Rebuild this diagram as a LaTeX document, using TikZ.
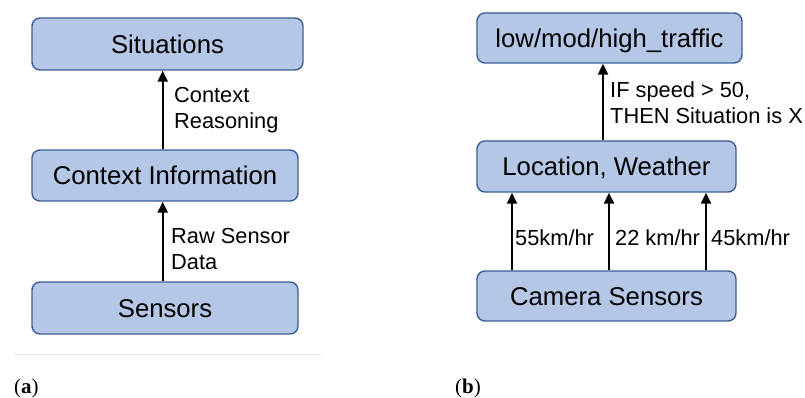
\documentclass[tikz,border=0pt]{standalone}
\usepackage{fontspec}
\setsansfont{Liberation Sans}
\newfontfamily\capfont{Liberation Serif}
\usetikzlibrary{arrows.meta}
\definecolor{boxfill}{HTML}{B4C7E7}
\definecolor{boxline}{HTML}{3B5E98}
\definecolor{rulegray}{HTML}{E4E4E4}
\tikzset{
  layer/.style={draw=boxline, fill=boxfill, line width=1.4pt, rounded corners=8pt,
    inner sep=0pt, font=\sffamily\fontsize{25.7}{30}\selectfont,
    text height=18.4pt, text depth=0pt},
  flow/.style={line width=2.2pt, -{Triangle[length=11pt,width=10pt]}},
  note/.style={font=\sffamily\fontsize{21.8}{26}\selectfont, align=left,
    inner sep=0pt, anchor=base west},
  panel/.style={font=\capfont\fontsize{21}{24}\selectfont, inner sep=0pt, anchor=base west},
}
\begin{document}
\begin{tikzpicture}[x=1pt,y=-1pt]
\useasboundingbox (0,0) rectangle (805,398);

% (a) generic context pipeline
\node[layer, minimum width=271pt, minimum height=52pt] (sit) at (167.5,44) {Situations};
\node[layer, minimum width=266pt, minimum height=51pt] (ctx) at (165,175.5) {Context Information};
\node[layer, minimum width=266pt, minimum height=52pt] (sen) at (165,308) {Sensors};

\draw[flow] ([xshift=-2.3pt]ctx.north) -- ([xshift=-4.8pt]sit.south);
\draw[flow] ([xshift=-2.3pt]sen.north) -- ([xshift=-2.3pt]ctx.south);

% multi-line notes are placed by the baseline of their last line
\node[note] (reason) at (174,128.3) {Context\\Reasoning};
\node[note] (raw) at (171,269.3) {Raw Sensor\\Data};

\draw[rulegray, line width=1pt] (14,354) coordinate (ruleL) -- (321,354) coordinate (ruleR);
\node[panel] (capa) at (14,393) {(\textbf{a})};

% (b) traffic example
\node[layer, minimum width=265pt, minimum height=50pt] (traf) at (609.5,38) {low/mod/high\_traffic};
\node[layer, minimum width=259pt, minimum height=51pt] (loc) at (606.5,166.5) {Location, Weather};
\node[layer, minimum width=259pt, minimum height=50pt] (cam) at (606.5,296) {Camera Sensors};

\draw[flow] ([xshift=-3.5pt]loc.north) -- ([xshift=-6.5pt]traf.south);
\draw[flow] ([xshift=-94.5pt]cam.north) -- ([xshift=-94.5pt]loc.south);
\draw[flow] ([xshift=2.5pt]cam.north) -- ([xshift=2.5pt]loc.south);
\draw[flow] ([xshift=99.5pt]cam.north) -- ([xshift=99.5pt]loc.south);

\node[note] (rule) at (610,123.3) {IF speed > 50,\\THEN Situation is X};
\node[note] (v1) at (515,245) {55km/hr};
\node[note] (v2) at (615,245) {22 km/hr};
\node[note] (v3) at (711,245) {45km/hr};

\node[panel] (capb) at (455,393) {(\textbf{b})};
\end{tikzpicture}
\end{document}
